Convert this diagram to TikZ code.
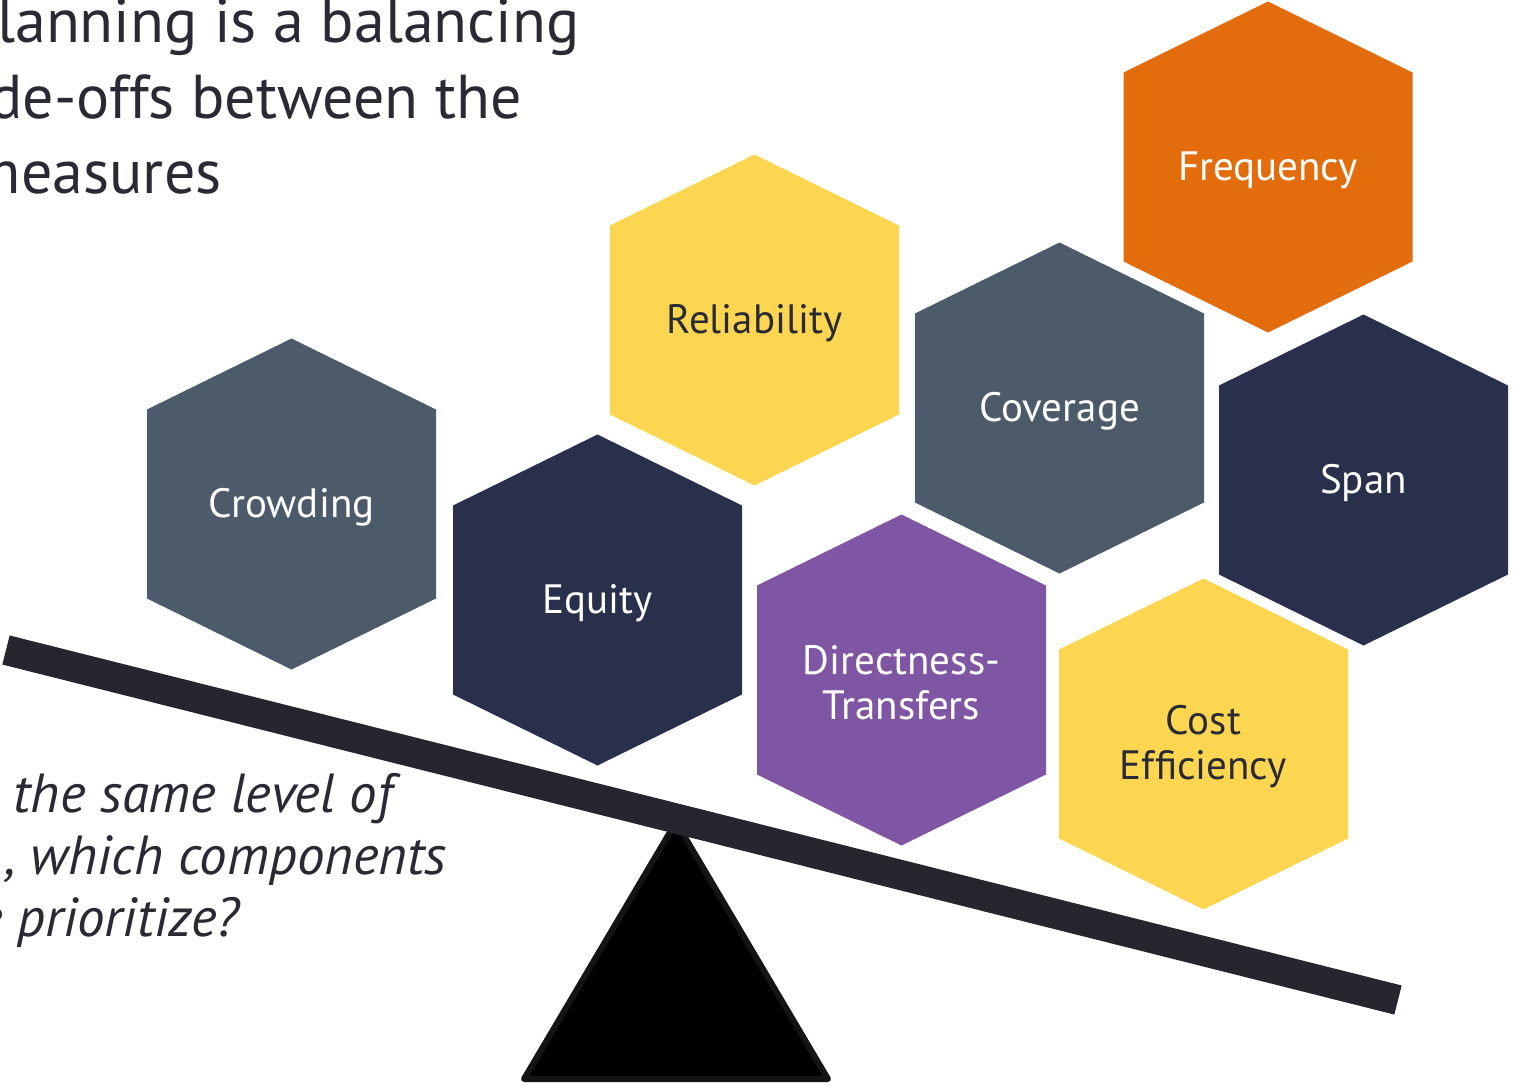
\documentclass[tikz,border=0pt]{standalone}
\usepackage{fontspec}
\setmainfont{PT Sans}
\usetikzlibrary{positioning}

\definecolor{slate}{HTML}{4D5A6A}
\definecolor{navy}{HTML}{28304B}
\definecolor{sun}{HTML}{FDD651}
\definecolor{rust}{HTML}{E36C0C}
\definecolor{plum}{HTML}{7F56A3}
\definecolor{ink}{HTML}{2A2A35}
\definecolor{beam}{HTML}{27262F}

% one hexagon cell: name, x, y, fill, text colour, text
\newcommand{\hexcell}[6]{%
  \fill[#4] (#2,#3) +(0,-165.5) -- +(144.5,-94.5) -- +(144.5,94.5)
    -- +(0,165.5) -- +(-144.5,94.5) -- +(-144.5,-94.5) -- cycle;
  \node[hextext, text=#5] (#1) at (#2,#3) {#6};
}

\begin{document}
\begin{tikzpicture}[x=0.5pt, y=-0.5pt]
    \tikzstyle{hextext}=[align=center, inner sep=0pt, yshift=-1.5pt,
    font=\fontsize{20.5}{22.5}\selectfont]
    \tikzstyle{headline}=[anchor=base east, inner sep=0pt, text=ink,
    font=\fontsize{31}{37}\selectfont]
    \tikzstyle{question}=[anchor=base east, inner sep=0pt, text=ink,
    font=\fontsize{27.5}{32}\selectfont\itshape]

\useasboundingbox (0,0) rectangle (1517,1088);
\clip (0,0) rectangle (1517,1088);

\node[headline] (head1) at (580,42) {lanning is a balancing};
\node[headline] (head2) at (522,118) {de-offs between the};
\node[headline] (head3) at (222,193) {measures};

\hexcell{freq}{1268}{167}{rust}{white}{Frequency}
\hexcell{reli}{754.5}{320}{sun}{ink}{Reliability}
\hexcell{cover}{1059.5}{408}{slate}{white}{Coverage}
\hexcell{span}{1363.5}{480}{navy}{white}{Span}
\hexcell{crowd}{291.5}{504}{slate}{white}{Crowding}
\hexcell{equity}{597.5}{600}{navy}{white}{Equity}
\hexcell{direct}{901.5}{680}{plum}{white}{Directness-\\Transfers}
\hexcell{cost}{1203.5}{744}{sun}{ink}{Cost\\Efficiency}

\node[question] (ask1) at (393,812) {the same level of};
\node[question] (ask2) at (447,874) {, which components};
\node[question] (ask3) at (240,936) {e prioritize?};

% the seesaw
\coordinate (apex) at (676,822);
\coordinate (footL) at (524,1079);
\coordinate (footR) at (828,1079);
\fill[black, draw=black!92, line width=3, line join=round]
    (apex) -- (footR) -- (footL) -- cycle;
\coordinate (beamL) at (6,650);
\coordinate (beamR) at (1398,1000);
\draw[beam, line width=15] (beamL) -- (beamR);

\end{tikzpicture}
\end{document}
